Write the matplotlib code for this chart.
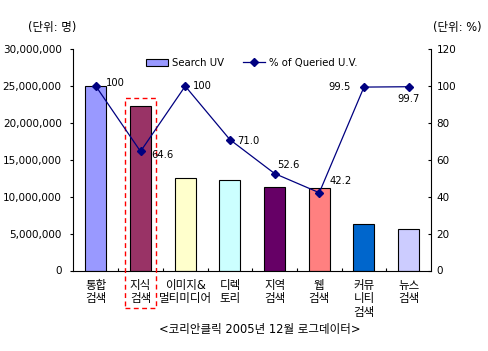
import numpy as np
import matplotlib
matplotlib.use("Agg")
import matplotlib.pyplot as plt
from matplotlib.patches import Rectangle
from matplotlib.ticker import FuncFormatter

plt.rcParams['font.family'] = ['DejaVu Sans', 'Noto Sans CJK KR']

# data
categories = ["통합\n검색", "지식\n검색", "이미지&\n멀티미디어", "디렉\n토리",
              "지역\n검색", "웹\n검색", "커뮤\n니티\n검색", "뉴스\n검색"]
search_uv = [25000000, 22300000, 12600000, 12300000, 11300000, 11200000, 6300000, 5600000]
queried_pct = [100, 64.6, 100, 71.0, 52.6, 42.2, 99.5, 99.7]
pct_labels = ["100", "64.6", "100", "71.0", "52.6", "42.2", "99.5", "99.7"]
bar_colors = ["#9999FF", "#993366", "#FFFFCC", "#CCFFFF",
              "#660066", "#FF8080", "#0066CC", "#CCCCFF"]
highlight = 1  # 지식검색

W, H = 489, 351
fig = plt.figure(figsize=(W / 100, H / 100), dpi=100)
L, R, T, B = 73.5, 431, 49.3, 270.5
ax = fig.add_axes([L / W, 1 - B / H, (R - L) / W, (B - T) / H])
ax2 = ax.twinx()

x = np.arange(len(categories))
ax.bar(x, search_uv, width=0.47, color=bar_colors, edgecolor="black",
       linewidth=0.8, label="Search UV", zorder=2)
ax.set_xlim(-0.5, len(categories) - 0.5)
ax.set_ylim(0, 30000000)
ax.set_yticks(np.arange(0, 30000001, 5000000))
ax.yaxis.set_major_formatter(FuncFormatter(lambda v, p: "{:,.0f}".format(v)))

ax2.plot(x, queried_pct, color="#000080", lw=0.9, marker="D", markersize=4.5,
         label="% of Queried U.V.", zorder=3)
ax2.set_ylim(0, 120)
ax2.set_yticks(np.arange(0, 121, 20))

offsets = [(10, 3, "left"), (11, -4, "left"), (8, 0, "left"), (7, -1, "left"),
           (3, 9, "left"), (10, 12, "left"), (-13, 0, "right"), (0, -12, "center")]
for xi, yi, lab, (dx, dy, ha) in zip(x, queried_pct, pct_labels, offsets):
    ax2.annotate(lab, (xi, yi), xytext=(dx, dy), textcoords="offset pixels",
                 ha=ha, va="center", fontsize=7.2)

# axis styling
for a in (ax, ax2):
    a.spines["top"].set_visible(False)
    a.set_facecolor("none")
ax.spines["right"].set_visible(False)
ax.spines["left"].set_linewidth(0.8)
ax.spines["bottom"].set_linewidth(0.8)
ax2.spines["right"].set_linewidth(0.8)
ax2.spines["left"].set_visible(False)
ax2.spines["bottom"].set_visible(False)

ax.tick_params(axis="y", direction="out", length=2.5, width=0.8, labelsize=7.5, pad=6)
ax2.tick_params(axis="y", direction="in", length=2.5, width=0.8, labelsize=7.5, pad=4)

ax.set_xticks(x)
ax.set_xticklabels(categories, fontsize=8.3, linespacing=1.05, va="top")
ax.tick_params(axis="x", length=0, pad=6)
ax.set_xticks(np.arange(0.5, len(categories) - 0.5, 1), minor=True)
ax.tick_params(axis="x", which="minor", direction="in", length=2.5, width=0.8)

# dashed highlight box around 지식검색
ax.add_patch(Rectangle((highlight - 0.35, -0.23 * search_uv[highlight]), 0.69,
                       search_uv[highlight] * 1.28, fill=False, edgecolor="red",
                       linestyle=(0, (3.5, 2.5)), linewidth=1.0, clip_on=False, zorder=4))

# legend
h1, l1 = ax.get_legend_handles_labels()
h2, l2 = ax2.get_legend_handles_labels()
fig.legend(h1 + h2, l1 + l2, loc="center left", bbox_to_anchor=(146 / W, 1 - 63 / H),
           ncol=2, frameon=False, fontsize=7.3, handlelength=2.2, handletextpad=0.4,
           columnspacing=1.8, borderpad=0, borderaxespad=0)

fig.text(28 / W, 1 - 28 / H, "(단위: 명)", fontsize=8.3, ha="left", va="center")
fig.text(482 / W, 1 - 28 / H, "(단위: %)", fontsize=8.3, ha="right", va="center")
fig.text(260 / W, 1 - 330 / H, "<코리안클릭 2005년 12월 로그데이터>", fontsize=8.3,
         ha="center", va="center")

fig.savefig("out.png", dpi=100)
